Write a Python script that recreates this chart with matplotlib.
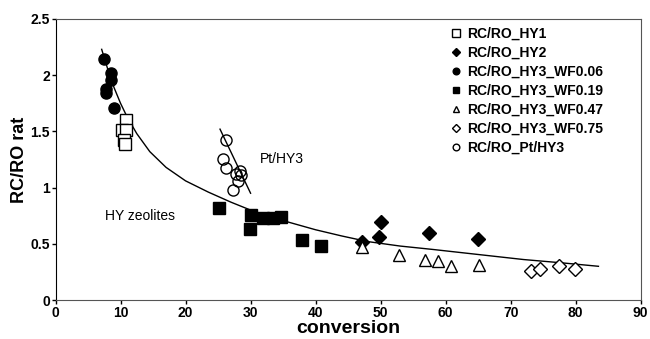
import matplotlib.pyplot as plt
from matplotlib.ticker import FuncFormatter

plt.rcParams['font.family'] = ['Liberation Sans', 'DejaVu Sans']

# data
hy1_x = [10.9, 10.2, 10.9, 10.5, 10.7]
hy1_y = [1.60, 1.51, 1.51, 1.42, 1.39]

hy2_x = [47.2, 50.0, 49.7, 57.4, 64.9]
hy2_y = [0.52, 0.69, 0.56, 0.60, 0.54]

wf006_x = [7.45, 8.5, 8.6, 7.7, 7.8, 9.0]
wf006_y = [2.14, 2.02, 1.96, 1.88, 1.84, 1.71]

wf019_x = [25.2, 30.0, 29.9, 31.9, 33.5, 34.7, 37.9, 40.8]
wf019_y = [0.82, 0.76, 0.63, 0.73, 0.73, 0.74, 0.53, 0.48]

wf047_x = [47.2, 52.9, 56.8, 58.8, 60.9, 65.1]
wf047_y = [0.47, 0.40, 0.36, 0.35, 0.30, 0.31]

wf075_x = [73.2, 74.5, 77.4, 79.9]
wf075_y = [0.26, 0.28, 0.30, 0.28]

pt_x = [26.2, 25.8, 26.2, 28.3, 28.6, 27.8, 28.1, 27.3]
pt_y = [1.42, 1.25, 1.17, 1.15, 1.11, 1.12, 1.06, 0.98]

# trend lines
curve_x = [7.1, 8.0, 9.0, 10.0, 11.0, 12.5, 14.5, 17.0, 20.0, 23.5, 27.0, 30.0, 33.0,
           36.0, 40.0, 44.0, 48.0, 53.0, 58.0, 65.0, 72.0, 78.0, 83.5]
curve_y = [2.23, 2.06, 1.89, 1.75, 1.63, 1.48, 1.32, 1.18, 1.06, 0.96, 0.87, 0.80, 0.74,
           0.69, 0.625, 0.57, 0.52, 0.48, 0.45, 0.405, 0.36, 0.33, 0.30]
pt_line_x = [25.3, 30.0]
pt_line_y = [1.52, 0.95]

fig = plt.figure(figsize=(6.5, 3.39), dpi=100)
ax = fig.add_axes([0.0854, 0.115, 0.9003, 0.829])

ax.plot(curve_x, curve_y, color='black', lw=1)
ax.plot(pt_line_x, pt_line_y, color='black', lw=1)

ms = 8
ax.plot(hy1_x, hy1_y, 's', ms=ms + 1, mfc='white', mec='black', mew=1, label='RC/RO_HY1')
ax.plot(hy2_x, hy2_y, 'D', ms=ms - 1, color='black', label='RC/RO_HY2')
ax.plot(wf006_x, wf006_y, 'o', ms=ms, color='black', label='RC/RO_HY3_WF0.06')
ax.plot(wf019_x, wf019_y, 's', ms=ms, color='black', label='RC/RO_HY3_WF0.19')
ax.plot(wf047_x, wf047_y, '^', ms=ms, mfc='white', mec='black', mew=1, label='RC/RO_HY3_WF0.47')
ax.plot(wf075_x, wf075_y, 'D', ms=ms - 1, mfc='white', mec='black', mew=1, label='RC/RO_HY3_WF0.75')
ax.plot(pt_x, pt_y, 'o', ms=ms, mfc='none', mec='black', mew=1, label='RC/RO_Pt/HY3')

ax.text(7.6, 0.75, 'HY zeolites', fontsize=10, va='center')
ax.text(31.4, 1.25, 'Pt/HY3', fontsize=10, va='center')

ax.set_xlim(0, 90)
ax.set_ylim(0, 2.5)
ax.set_xticks(range(0, 91, 10))
ax.set_yticks([0, 0.5, 1, 1.5, 2, 2.5])
ax.yaxis.set_major_formatter(FuncFormatter(lambda v, p: '%g' % v))
ax.tick_params(direction='out', length=3, width=1, labelsize=10, pad=1)
for lab in ax.get_xticklabels() + ax.get_yticklabels():
    lab.set_fontweight('bold')
for s in ax.spines.values():
    s.set_color('#555555')
ax.spines['left'].set_color('black')

ax.set_xlabel('conversion', fontsize=14, fontweight='bold', labelpad=0)
ax.set_ylabel('RC/RO rat', fontsize=13, fontweight='bold', labelpad=2)

ax.legend(loc='upper left', bbox_to_anchor=(0.685, 0.942), bbox_transform=fig.transFigure,
          frameon=False, markerscale=0.6, handlelength=0.6, handletextpad=0.5,
          labelspacing=0.36, borderpad=0, prop={'weight': 'bold', 'size': 10})

fig.savefig('out.png', dpi=100)
